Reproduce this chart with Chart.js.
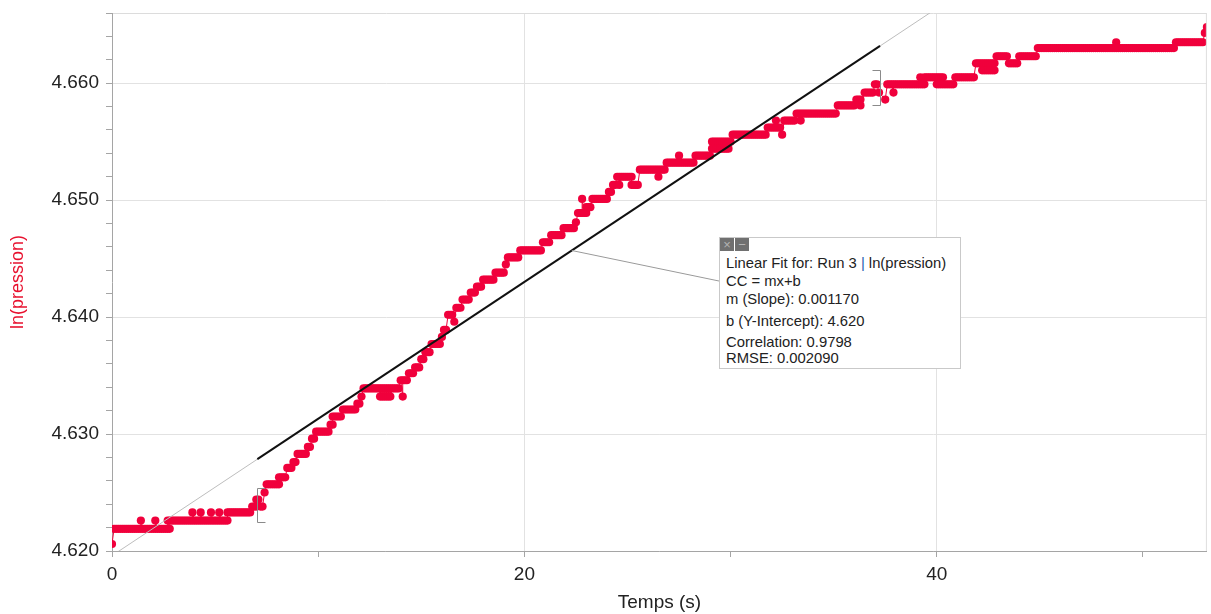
<!DOCTYPE html>
<html>
<head>
<meta charset="utf-8">
<script src="https://cdn.jsdelivr.net/npm/chart.js@4.4.1/dist/chart.umd.min.js"></script>
<style>
  html, body { margin:0; padding:0; background:#fff; }
  #wrap { position:relative; width:1211px; height:614px; font-family:"Liberation Sans", Arial, sans-serif; }
  #chart { position:absolute; left:0; top:0; }
  #fitBox { position:absolute; left:719px; top:237px; width:242px; height:132px; box-sizing:border-box;
            border:1px solid #c9c9c9; background:#fff; font-size:14.8px; color:#222; }
  #fitBox .ln { position:absolute; left:6px; white-space:nowrap; line-height:16px; }
  #fitBox .btn { position:absolute; top:0; width:14px; height:13px; background:#707070; color:#b4b4b4;
                 font-size:13px; line-height:13px; text-align:center; }
  #fitBox .pipe { color:#2a5db0; }
</style>
</head>
<body>
<div id="wrap">
  <canvas id="chart" width="1211" height="614"></canvas>
  <div id="fitBox">
    <div class="btn" style="left:0">×</div>
    <div class="btn" style="left:15px">−</div>
    <div class="ln" style="top:17px">Linear Fit for: Run 3 <span class="pipe">|</span> ln(pression)</div>
    <div class="ln" style="top:35px">CC = mx+b</div>
    <div class="ln" style="top:53px">m (Slope): 0.001170</div>
    <div class="ln" style="top:75px">b (Y-Intercept): 4.620</div>
    <div class="ln" style="top:96px">Correlation: 0.9798</div>
    <div class="ln" style="top:112px">RMSE: 0.002090</div>
  </div>
</div>
<script>
// runs of constant reading (time from, time to, ln(pression))
const runStart = [0.0, 0.1, 1.4, 2.1, 2.7, 3.9, 4.3, 4.8, 5.2, 5.6, 6.8, 7.0, 7.2, 7.4, 7.5, 8.1, 8.5, 8.8, 9.0, 9.5,
  9.7, 9.9, 10.6, 10.7, 11.2, 11.9, 12.1, 12.2, 13.0, 14.1, 14.0, 14.4, 14.7, 15.0, 15.2, 15.5, 16.0, 16.1, 16.3, 16.6,
  16.7, 17.0, 17.4, 17.7, 18.0, 18.6, 19.1, 19.2, 19.8, 20.9, 21.3, 21.9, 22.5, 22.6, 22.8, 23.0, 23.3, 24.1, 24.3, 24.5,
  24.6, 25.2, 25.6, 26.5, 26.9, 27.5, 28.3, 29.1, 29.1, 30.1, 31.8, 32.2, 32.5, 32.6, 33.2, 33.4, 35.2, 36.1, 36.3, 36.5,
  37.0, 37.2, 37.5, 37.9, 37.6, 39.2, 39.4, 40.0, 40.9, 41.9, 42.2, 42.9, 43.5, 44.0, 44.9, 48.7, 51.6, 53.0, 53.1];
const runEnd = [0.0, 2.8, 1.4, 2.1, 5.6, 3.9, 4.3, 4.8, 5.2, 6.7, 7.0, 7.1, 7.3, 7.4, 8.1, 8.4, 8.7, 8.9, 9.4, 9.6,
  9.8, 10.5, 10.7, 11.1, 11.8, 12.0, 12.1, 13.9, 13.5, 14.1, 14.3, 14.6, 14.9, 15.1, 15.4, 15.9, 16.0, 16.2, 16.5, 16.6,
  16.9, 17.3, 17.6, 17.9, 18.5, 19.0, 19.1, 19.7, 20.8, 21.2, 21.8, 22.4, 22.5, 23.0, 22.8, 23.2, 24.0, 24.2, 24.4, 25.2,
  24.6, 25.5, 26.8, 26.5, 28.2, 27.5, 29.0, 30.0, 29.9, 31.7, 32.4, 32.2, 32.5, 33.1, 35.1, 33.4, 36.0, 36.3, 36.3, 36.9,
  37.1, 37.2, 37.5, 37.9, 39.4, 39.2, 40.3, 40.8, 41.8, 42.8, 42.8, 43.4, 43.9, 44.8, 51.5, 48.7, 52.9, 53.0, 53.1];
const runLevel = [4.6206, 4.6219, 4.6226, 4.6226, 4.6226, 4.6233, 4.6233, 4.6233, 4.6233, 4.6233, 4.6238, 4.6244, 4.6238,
  4.6250, 4.6257, 4.6263, 4.6271, 4.6276, 4.6283, 4.6289, 4.6296, 4.6302, 4.6308, 4.6315, 4.6321, 4.6326, 4.6332, 4.6339,
  4.6332, 4.6332, 4.6346, 4.6352, 4.6357, 4.6364, 4.6370, 4.6377, 4.6383, 4.6389, 4.6402, 4.6396, 4.6408, 4.6415, 4.6421,
  4.6426, 4.6432, 4.6438, 4.6445, 4.6451, 4.6457, 4.6464, 4.6470, 4.6476, 4.6481, 4.6489, 4.6501, 4.6494, 4.6501, 4.6507,
  4.6513, 4.6520, 4.6513, 4.6513, 4.6526, 4.6520, 4.6532, 4.6538, 4.6538, 4.6550, 4.6544, 4.6556, 4.6562, 4.6568, 4.6556,
  4.6568, 4.6574, 4.6568, 4.6581, 4.6586, 4.6581, 4.6592, 4.6599, 4.6592, 4.6586, 4.6592, 4.6599, 4.6605, 4.6605, 4.6599,
  4.6605, 4.6617, 4.6611, 4.6623, 4.6617, 4.6623, 4.6630, 4.6635, 4.6635, 4.6643, 4.6648];
const sampleStep = 0.1; // logger sampling interval (s)

// linear fit shown in the box
const fitSlope = 0.001170;
const fitIntercept = 4.6196;
const fitFrom = 7.05, fitTo = 37.25;
const leaderAt = 22.3;

// range brackets of the fit
const bracketTimes = [7.05, 37.25];
const bracketLow = [4.6225, 4.6581];
const bracketHigh = [4.6254, 4.6611];

const xMin = 0, xMax = 53.1;
const yMin = 4.620, yMax = 4.666;
const xLabelled = [0, 20, 40];

const points = [];
runStart.forEach((s, i) => {
  for (let t = s; t <= runEnd[i] + 1e-6; t += sampleStep) {
    points.push({ x: +t.toFixed(2), y: runLevel[i] });
  }
});
points.sort((a, b) => a.x - b.x);

const fitLine = (a, b) => [{ x: a, y: fitIntercept + fitSlope * a }, { x: b, y: fitIntercept + fitSlope * b }];

const red = '#f0003c';

const fitMarks = {
  id: 'fitMarks',
  afterDatasetsDraw(chart) {
    const { ctx, scales: { x, y }, chartArea } = chart;
    ctx.save();
    // frame right
    ctx.strokeStyle = '#dedede';
    ctx.lineWidth = 1;
    ctx.beginPath();
    ctx.moveTo(chartArea.right - 0.5, chartArea.top);
    ctx.lineTo(chartArea.right - 0.5, chartArea.bottom);
    ctx.stroke();
    // brackets
    ctx.strokeStyle = '#8a8a8a';
    bracketTimes.forEach((t, i) => {
      const px = Math.round(x.getPixelForValue(t)) + 0.5;
      const top = Math.round(y.getPixelForValue(bracketHigh[i])) + 0.5;
      const bot = Math.round(y.getPixelForValue(bracketLow[i])) + 0.5;
      const d = i === 0 ? 8 : -8;
      ctx.beginPath();
      ctx.moveTo(px + d, top); ctx.lineTo(px, top); ctx.lineTo(px, bot); ctx.lineTo(px + d, bot);
      ctx.stroke();
    });
    // leader line to the fit box
    ctx.strokeStyle = '#9a9a9a';
    ctx.beginPath();
    ctx.moveTo(x.getPixelForValue(leaderAt), y.getPixelForValue(fitIntercept + fitSlope * leaderAt));
    ctx.lineTo(719, 281);
    ctx.stroke();
    ctx.restore();
  }
};

new Chart(document.getElementById('chart'), {
  type: 'scatter',
  data: {
    datasets: [
      { data: fitLine(fitFrom, fitTo), showLine: true, borderColor: '#111', borderWidth: 2, pointRadius: 0 },
      { data: fitLine(xMin, xMax), showLine: true, borderColor: '#bdbdbd', borderWidth: 1, pointRadius: 0 },
      { data: points, showLine: true, borderColor: red, borderWidth: 1, pointRadius: 4.1,
        pointBackgroundColor: red, pointBorderWidth: 0 }
    ]
  },
  options: {
    responsive: false,
    animation: false,
    layout: { padding: { top: 13, right: 0, left: 0, bottom: 0 } },
    plugins: { legend: { display: false }, tooltip: { enabled: false } },
    scales: {
      x: {
        type: 'linear', min: xMin, max: xMax,
        afterFit: s => { s.height = 63; s.paddingLeft = 0; s.paddingRight = 0; },
        border: { color: '#a5a5a5' },
        grid: {
          color: c => (c.tick && c.tick.value > 0 && xLabelled.includes(c.tick.value)) ? '#e2e2e2' : 'rgba(0,0,0,0)',
          tickColor: '#a5a5a5', tickLength: 6
        },
        ticks: {
          stepSize: 10, includeBounds: false, autoSkip: false, maxRotation: 0,
          color: '#222', font: { size: 19, family: 'Liberation Sans' }, padding: 6,
          callback: v => xLabelled.includes(v) ? String(v) : ''
        },
        title: { display: true, text: 'Temps (s)', color: '#222', font: { size: 19, family: 'Liberation Sans' },
                 padding: { top: 0, bottom: 0 } }
      },
      y: {
        type: 'linear', min: yMin, max: yMax,
        afterFit: s => { s.width = 112; s.paddingTop = 0; s.paddingBottom = 0; },
        border: { color: '#a5a5a5' },
        grid: {
          color: c => {
            if (!c.tick) return 'rgba(0,0,0,0)';
            const k = Math.round(c.tick.value * 1000);
            if (k === Math.round(yMax * 1000)) return '#dcdcdc';
            return k % 10 === 0 ? '#e2e2e2' : 'rgba(0,0,0,0)';
          },
          tickColor: '#a5a5a5', tickLength: 6
        },
        ticks: {
          stepSize: 0.002, autoSkip: false, color: '#222', font: { size: 19, family: 'Liberation Sans' }, padding: 7,
          callback: v => { const k = Math.round(v * 1000); return k % 10 === 0 ? (k / 1000).toFixed(3) : ''; }
        },
        title: { display: true, text: 'ln(pression)', color: '#e8102e', font: { size: 18, family: 'Liberation Sans' },
                 padding: { top: 7, bottom: 0 } }
      }
    }
  },
  plugins: [fitMarks]
});
</script>
</body>
</html>
